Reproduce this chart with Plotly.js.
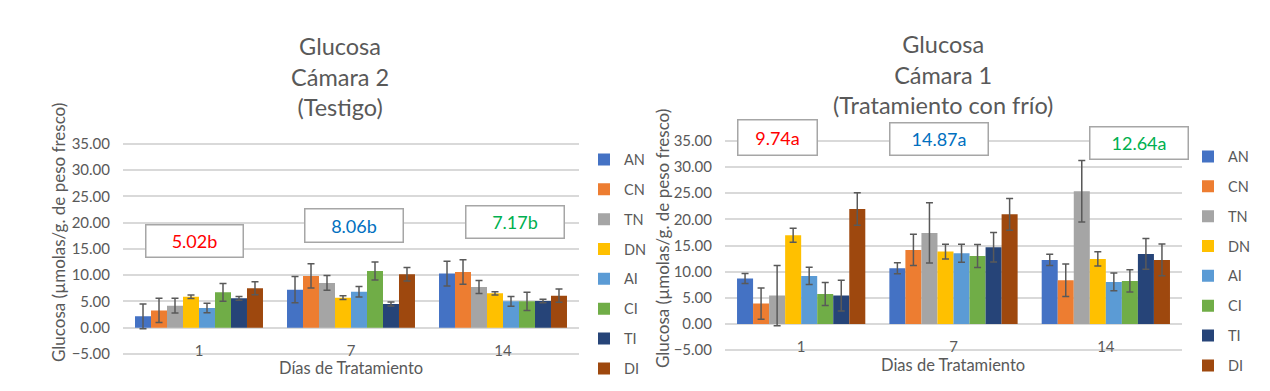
<!DOCTYPE html>
<html>
<head>
<meta charset="utf-8">
<script src="https://cdn.plot.ly/plotly-3.0.1.min.js"></script>
<style>html,body{margin:0;padding:0;background:#fff}#chart{width:1270px;height:391px}</style>
</head>
<body>
<div id="chart"></div>
<script>
// ---- data ----
const days = ['1', '7', '14'];
const seriesNames = ['AN', 'CN', 'TN', 'DN', 'AI', 'CI', 'TI', 'DI'];
const seriesColors = ['#4472C4', '#ED7D31', '#A5A5A5', '#FFC000', '#5B9BD5', '#70AD47', '#264478', '#9E480E'];

// Cámara 2 (Testigo): means per day
const c2_AN = [2.16, 7.24, 10.29];
const c2_CN = [3.30, 9.85, 10.60];
const c2_TN = [4.19, 8.51, 7.75];
const c2_DN = [5.90, 5.72, 6.54];
const c2_AI = [3.75, 6.86, 5.02];
const c2_CI = [6.73, 10.80, 5.02];
const c2_TI = [5.59, 4.51, 5.08];
const c2_DI = [7.50, 10.16, 6.10];
// Cámara 2 error bars
const c2e_AN = [2.35, 2.50, 2.35];
const c2e_CN = [2.30, 2.30, 2.35];
const c2e_TN = [1.40, 1.40, 1.24];
const c2e_DN = [0.32, 0.35, 0.32];
const c2e_AI = [0.92, 1.00, 0.92];
const c2e_CI = [1.70, 1.72, 1.72];
const c2e_TI = [0.35, 0.40, 0.32];
const c2e_DI = [1.25, 1.27, 1.27];

// Cámara 1 (Tratamiento con frío): means per day
const c1_AN = [8.67, 10.65, 12.24];
const c1_CN = [3.89, 14.15, 8.35];
const c1_TN = [5.42, 17.40, 25.37];
const c1_DN = [16.96, 13.83, 12.43];
const c1_AI = [9.18, 13.50, 8.03];
const c1_CI = [5.74, 13.00, 8.22];
const c1_TI = [5.42, 14.66, 13.39];
const c1_DI = [21.99, 20.97, 12.24];
// Cámara 1 error bars
const c1e_AN = [0.95, 1.05, 1.08];
const c1e_CN = [3.00, 3.00, 3.10];
const c1e_TN = [5.77, 5.77, 5.87];
const c1e_DN = [1.34, 1.40, 1.37];
const c1e_AI = [1.66, 1.72, 1.69];
const c1e_CI = [2.20, 2.20, 2.13];
const c1e_TI = [2.93, 2.84, 2.93];
const c1e_DI = [3.10, 3.03, 3.03];

const c2Values = [c2_AN, c2_CN, c2_TN, c2_DN, c2_AI, c2_CI, c2_TI, c2_DI];
const c2Errors = [c2e_AN, c2e_CN, c2e_TN, c2e_DN, c2e_AI, c2e_CI, c2e_TI, c2e_DI];
const c1Values = [c1_AN, c1_CN, c1_TN, c1_DN, c1_AI, c1_CI, c1_TI, c1_DI];
const c1Errors = [c1e_AN, c1e_CN, c1e_TN, c1e_DN, c1e_AI, c1e_CI, c1e_TI, c1e_DI];

// mean labels per day
const c2Means = ['5.02b', '8.06b', '7.17b'];
const c1Means = ['9.74a', '14.87a', '12.64a'];
const meanColors = ['#FF0000', '#0070C0', '#00B050'];

// ---- layout helpers ----
const W = 1270, H = 391;
const px = v => v / W;
const py = v => 1 - v / H;
const FONT = 'Lato, "Liberation Sans", sans-serif';
const GREY = '#595959';

const traces = [];
seriesNames.forEach((name, i) => {
  traces.push({
    type: 'bar', x: days, y: c2Values[i], name: name,
    xaxis: 'x', yaxis: 'y', legend: 'legend', legendgroup: 'g2' + name,
    marker: {color: seriesColors[i], line: {width: 0}},
    error_y: {type: 'data', array: c2Errors[i], visible: true, color: GREY, thickness: 1.5, width: 3.5},
    hoverinfo: 'skip'
  });
});
seriesNames.forEach((name, i) => {
  traces.push({
    type: 'bar', x: days, y: c1Values[i], name: name,
    xaxis: 'x2', yaxis: 'y2', legend: 'legend2', legendgroup: 'g1' + name,
    marker: {color: seriesColors[i], line: {width: 0}},
    error_y: {type: 'data', array: c1Errors[i], visible: true, color: GREY, thickness: 1.5, width: 3.5},
    hoverinfo: 'skip'
  });
});

const yax = (domain) => ({
  domain: domain, range: [-5.3, 35.3], tickvals: [-5, 0, 5, 10, 15, 20, 25, 30, 35],
  tickformat: '.2f', showgrid: true, gridcolor: '#D9D9D9', gridwidth: 2,
  zeroline: true, zerolinecolor: '#D9D9D9', zerolinewidth: 2,
  showline: false, ticks: '', ticklabelstandoff: 12,
  tickfont: {family: FONT, size: 15, color: GREY}, fixedrange: true
});
const xax = (domain, anchor) => ({
  domain: domain, anchor: anchor, type: 'category', showgrid: false, zeroline: false,
  showline: false, ticks: '', ticklabelposition: 'outside', ticklabelstandoff: -16,
  tickfont: {family: FONT, size: 15, color: GREY}, fixedrange: true
});

const annotations = [];
function addText(text, x, y, size, angle) {
  annotations.push({text: text, xref: 'paper', yref: 'paper', x: px(x), y: py(y),
    xanchor: 'center', yanchor: 'middle', showarrow: false, textangle: angle || 0,
    font: {family: FONT, size: size, color: GREY}});
}
// chart titles
addText('Glucosa<br>Cámara 2<br>(Testigo)', 340, 76, 23.5);
addText('Glucosa<br>Cámara 1<br>(Tratamiento con frío)', 943, 74, 23.5);
// axis titles
addText('Glucosa (µmolas/g. de peso fresco)', 58, 233, 17, -90);
addText('Glucosa (µmolas/g. de peso fresco)', 662, 239, 17, -90);
addText('Días de Tratamiento', 351, 368, 16.5);
addText('Dias de Tratamiento', 953, 365, 16.5);

// mean boxes
const c2Boxes = [[194, 240.5, 98, 33], [353.5, 226, 99, 34], [514.5, 221.5, 99, 33]];
const c1Boxes = [[777, 137.3, 80, 36], [938.8, 139, 99, 33], [1138.8, 142.5, 99, 33]];
function addBox(text, b, color) {
  annotations.push({text: text, xref: 'paper', yref: 'paper', x: px(b[0]), y: py(b[1]),
    xanchor: 'center', yanchor: 'middle', showarrow: false, width: b[2] - 2, height: b[3] - 2,
    align: 'center', valign: 'middle', bgcolor: '#FFFFFF', bordercolor: '#A6A6A6',
    borderwidth: 1.5, borderpad: 0, font: {family: FONT, size: 18, color: color}});
}
c2Means.forEach((t, i) => addBox(t, c2Boxes[i], meanColors[i]));
c1Means.forEach((t, i) => addBox(t, c1Boxes[i], meanColors[i]));

const legendBase = {
  xanchor: 'left', yanchor: 'top', bgcolor: 'rgba(0,0,0,0)',
  font: {family: FONT, size: 14.5, color: GREY}, tracegroupgap: 8, traceorder: 'grouped'
};

const layout = {
  width: W, height: H, margin: {l: 0, r: 0, t: 0, b: 0},
  paper_bgcolor: '#FFFFFF', plot_bgcolor: '#FFFFFF',
  barmode: 'group', bargap: 0.158, bargroupgap: 0,
  xaxis: xax([px(123), px(579)], 'y'),
  yaxis: yax([py(355.6), py(142.1)]),
  xaxis2: xax([px(725), px(1182)], 'y2'),
  yaxis2: Object.assign(yax([py(351.6), py(139.4)]), {anchor: 'x2'}),
  legend: Object.assign({x: px(584), y: py(143.5)}, legendBase),
  legend2: Object.assign({x: px(1188), y: py(140.5)}, legendBase),
  annotations: annotations,
  showlegend: true
};
layout.yaxis.anchor = 'x';

Plotly.newPlot('chart', traces, layout, {displayModeBar: false, staticPlot: true});
</script>
</body>
</html>
